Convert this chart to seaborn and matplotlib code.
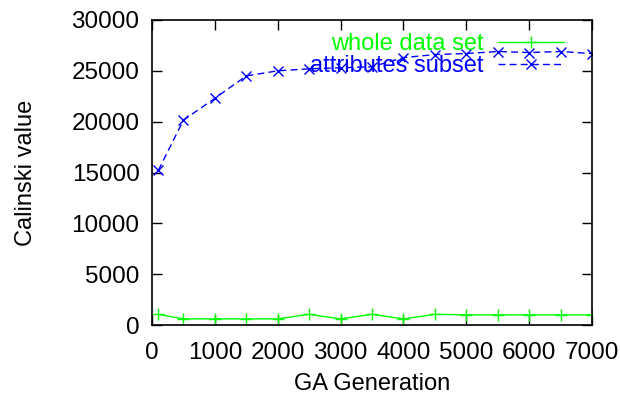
import matplotlib
matplotlib.use("Agg")
import matplotlib.pyplot as plt
import seaborn as sns
import pandas as pd

generations = [100, 500, 1000, 1500, 2000, 2500, 3000, 3500, 4000, 4500, 5000, 5500, 6000, 6500, 7000]
whole_data_set = [1050, 600, 600, 600, 600, 1050, 600, 1050, 600, 1050, 1000, 1000, 1000, 1000, 1000]
attributes_subset = [15200, 20150, 22300, 24500, 25000, 25200, 25300, 25400, 26300, 26600, 26700, 26900, 26800, 26900, 26700]
x_ticks = [0, 1000, 2000, 3000, 4000, 5000, 6000, 7000]
y_ticks = [0, 5000, 10000, 15000, 20000, 25000, 30000]

sns.set_style("ticks")
plt.rcParams['font.family'] = ['Liberation Sans', 'DejaVu Sans']
plt.rcParams['text.color'] = 'black'
plt.rcParams['axes.labelcolor'] = 'black'
plt.rcParams['xtick.color'] = 'black'
plt.rcParams['ytick.color'] = 'black'

fig = plt.figure(figsize=(6.2, 3.96), dpi=100)
ax = fig.add_axes([152/620, 1 - 325/396, 440/620, 305/396])

df = pd.DataFrame({"gen": generations, "whole": whole_data_set, "attr": attributes_subset})

sns.lineplot(data=df, x="gen", y="whole", ax=ax, color="#00ff00", marker="+",
             markersize=8, markeredgewidth=1.0, markeredgecolor="#00ff00",
             linewidth=1.0, label="whole data set")
sns.lineplot(data=df, x="gen", y="attr", ax=ax, color="#0000ff", marker="x",
             markersize=7.5, markeredgewidth=1.0, markeredgecolor="#0000ff",
             linewidth=1.0, linestyle=(0, (5, 3)), label="attributes subset")

ax.set_xlim(0, 7000)
ax.set_ylim(0, 30000)
ax.set_xticks(x_ticks)
ax.set_yticks(y_ticks)
ax.tick_params(axis='both', which='major', direction='in', length=7.5, width=1.0,
               top=True, right=True, labelsize=17.5, colors='black')
ax.tick_params(axis='x', pad=12)
ax.tick_params(axis='y', pad=9)
for s in ax.spines.values():
    s.set_visible(True)
    s.set_linewidth(1.2)
    s.set_color('black')

ax.set_xlabel("GA Generation", fontsize=17, labelpad=7)
ax.set_ylabel("Calinski value", fontsize=17, labelpad=25)

leg = ax.legend(loc="upper right", bbox_to_anchor=((564 - 152) / 440, (325 - 33) / 305),
                frameon=False, markerfirst=False, fontsize=17, borderpad=0, borderaxespad=0,
                handlelength=2.8, handletextpad=0.6, labelspacing=0.0)
for txt, col in zip(leg.get_texts(), ["#00ff00", "#0000ff"]):
    txt.set_color(col)

fig.savefig("out.png", dpi=100)
